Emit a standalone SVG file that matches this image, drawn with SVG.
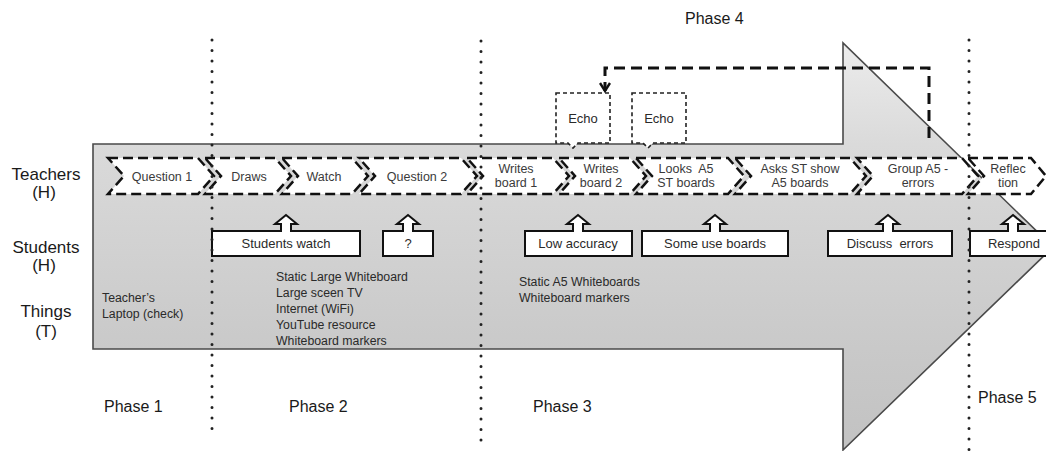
<svg xmlns="http://www.w3.org/2000/svg" width="1046" height="451" viewBox="0 0 1046 451">
  <defs>
    <linearGradient id="bodyFill" gradientUnits="userSpaceOnUse" x1="0" y1="43" x2="0" y2="450">
      <stop offset="0" stop-color="#ececec"/>
      <stop offset="0.25" stop-color="#dadada"/>
      <stop offset="0.75" stop-color="#c9c9c9"/>
      <stop offset="1" stop-color="#c2c2c2"/>
    </linearGradient>
    <marker id="openV" viewBox="0 0 12 12" refX="10" refY="6" markerWidth="12" markerHeight="12" markerUnits="userSpaceOnUse" orient="auto">
      <path d="M2,1 L10,6 L2,11" fill="none" stroke="#111" stroke-width="2.4" stroke-dasharray="none"/>
    </marker>
    <style>
      text { font-family: "Liberation Sans", Arial, sans-serif; }
      .row { font-size: 17px; fill: #1a1a1a; text-anchor: middle; }
      .phase { font-size: 16px; fill: #1a1a1a; }
      .step { fill: #fff; stroke: #111; stroke-width: 2.5; stroke-dasharray: 10 5; }
      .stepText { font-size: 12.5px; fill: #3a3a3a; text-anchor: middle; }
      .stu { fill: #fff; stroke: #111; stroke-width: 2; stroke-linejoin: miter; }
      .stuText { font-size: 13px; fill: #2a2a2a; text-anchor: middle; }
      .thing { font-size: 12.3px; fill: #2a2a2a; }
      .echo { fill: #fff; stroke: #222; stroke-width: 1.6; stroke-dasharray: 4 3; }
      .echoText { font-size: 13px; fill: #2a2a2a; text-anchor: middle; }
      .divider { stroke: #222; stroke-width: 3; stroke-dasharray: 0 10.5; stroke-linecap: round; fill: none; }
      .loop { fill: none; stroke: #111; stroke-width: 3; stroke-dasharray: 11 6; }
    </style>
  </defs>

  <!-- big process arrow -->
  <g id="process-arrow">
    <polygon points="93,144 843,144 843,43 1053,247 843,450 843,349 93,349" fill="url(#bodyFill)" stroke="#4a4a4a" stroke-width="1.6"/>
  </g>

  <!-- row labels -->
  <g id="row-labels">
    <text class="row" x="46" y="180">Teachers</text>
    <text class="row" x="44" y="198">(H)</text>
    <text class="row" x="46" y="253">Students</text>
    <text class="row" x="44" y="271">(H)</text>
    <text class="row" x="46" y="317">Things</text>
    <text class="row" x="46" y="337">(T)</text>
  </g>

  <!-- teacher steps -->
  <g id="t-question1">
    <path class="step" d="M108,158 H198 L214,176 L198,194 H108 L124,176 Z"/>
    <text class="stepText" x="162" y="181">Question 1</text>
  </g>
  <g id="t-draws">
    <path class="step" d="M205,158 H275 L291,176 L275,194 H205 L221,176 Z"/>
    <text class="stepText" x="249" y="181">Draws</text>
  </g>
  <g id="t-watch">
    <path class="step" d="M282,158 H352 L368,176 L352,194 H282 L298,176 Z"/>
    <text class="stepText" x="324" y="181">Watch</text>
  </g>
  <g id="t-question2">
    <path class="step" d="M359,158 H461 L477,176 L461,194 H359 L375,176 Z"/>
    <text class="stepText" x="417" y="181">Question 2</text>
  </g>
  <g id="t-writes1">
    <path class="step" d="M467,158 H553 L569,176 L553,194 H467 L483,176 Z"/>
    <text class="stepText" x="516" y="173">Writes</text>
    <text class="stepText" x="516" y="187">board 1</text>
  </g>
  <g id="t-writes2">
    <path class="step" d="M559,158 H630 L646,176 L630,194 H559 L575,176 Z"/>
    <text class="stepText" x="601" y="173">Writes</text>
    <text class="stepText" x="601" y="187">board 2</text>
  </g>
  <g id="t-looks">
    <path class="step" d="M636,158 H728 L744,176 L728,194 H636 L652,176 Z"/>
    <text class="stepText" x="686" y="173" xml:space="preserve">Looks  A5</text>
    <text class="stepText" x="686" y="187">ST boards</text>
  </g>
  <g id="t-asks">
    <path class="step" d="M735,158 H850 L866,176 L850,194 H735 L751,176 Z"/>
    <text class="stepText" x="800" y="173">Asks ST show</text>
    <text class="stepText" x="800" y="187">A5 boards</text>
  </g>
  <g id="t-group">
    <path class="step" d="M857,158 H962 L978,176 L962,194 H857 L873,176 Z"/>
    <text class="stepText" x="918" y="173">Group A5 -</text>
    <text class="stepText" x="918" y="187">errors</text>
  </g>
  <g id="t-reflection">
    <path class="step" d="M968,158 H1031 L1046,176 L1031,194 H968 L984,176 Z"/>
    <text class="stepText" x="1008" y="173">Reflec</text>
    <text class="stepText" x="1008" y="187">tion</text>
  </g>

  <!-- echo callouts -->
  <g id="echo-1">
    <path class="echo" d="M556,93 H610 V143 H578 L573,148 L568,143 H556 Z"/>
    <text class="echoText" x="583" y="123">Echo</text>
  </g>
  <g id="echo-2">
    <path class="echo" d="M632,93 H686 V143 H653 L648,148 L643,143 H632 Z"/>
    <text class="echoText" x="659" y="123">Echo</text>
  </g>

  <!-- student responses -->
  <g id="s-watch">
    <path class="stu" d="M212,231 H281 V224 H275 L286,215 L297,224 H291 V231 H360 V256 H212 Z"/>
    <text class="stuText" x="286" y="248">Students watch</text>
  </g>
  <g id="s-unknown">
    <path class="stu" d="M383,231 H403 V224 H397 L408,215 L419,224 H413 V231 H433 V256 H383 Z"/>
    <text class="stuText" x="408" y="248">?</text>
  </g>
  <g id="s-low-accuracy">
    <path class="stu" d="M525,231 H573 V224 H567 L578,215 L589,224 H583 V231 H632 V256 H525 Z"/>
    <text class="stuText" x="578" y="248">Low accuracy</text>
  </g>
  <g id="s-some-use">
    <path class="stu" d="M642,231 H710 V224 H704 L715,215 L726,224 H720 V231 H788 V256 H642 Z"/>
    <text class="stuText" x="715" y="248">Some use boards</text>
  </g>
  <g id="s-discuss">
    <path class="stu" d="M828,231 H883 V224 H877 L888,215 L899,224 H893 V231 H952 V256 H828 Z"/>
    <text class="stuText" x="890" y="248" xml:space="preserve">Discuss  errors</text>
  </g>
  <g id="s-respond">
    <path class="stu" d="M970,231 H1008 V224 H1002 L1013,215 L1024,224 H1018 V231 H1052 V256 H970 Z"/>
    <text class="stuText" x="1014" y="248">Respond</text>
  </g>

  <!-- resources -->
  <g id="things-phase1">
    <text class="thing" x="102" y="302">Teacher’s</text>
    <text class="thing" x="102" y="318">Laptop (check)</text>
  </g>
  <g id="things-phase2">
    <text class="thing" x="276" y="281">Static Large Whiteboard</text>
    <text class="thing" x="276" y="297">Large sceen TV</text>
    <text class="thing" x="276" y="313">Internet (WiFi)</text>
    <text class="thing" x="276" y="329">YouTube resource</text>
    <text class="thing" x="276" y="345">Whiteboard markers</text>
  </g>
  <g id="things-phase3">
    <text class="thing" x="519" y="286">Static A5 Whiteboards</text>
    <text class="thing" x="519" y="302">Whiteboard markers</text>
  </g>

  <!-- feedback loop -->
  <g id="connectors">
    <path class="loop" d="M929,138 V68 H605 V91" marker-end="url(#openV)"/>
  </g>

  <!-- phase dividers, drawn over the steps -->
  <g id="dividers">
    <line class="divider" x1="212" y1="40" x2="212" y2="430"/>
    <line class="divider" x1="481" y1="41" x2="481" y2="450"/>
    <line class="divider" x1="969" y1="40" x2="969" y2="451"/>
  </g>

  <!-- phase labels -->
  <g id="phase-labels">
    <text class="phase" x="104" y="412">Phase 1</text>
    <text class="phase" x="289" y="412">Phase 2</text>
    <text class="phase" x="533" y="412">Phase 3</text>
    <text class="phase" x="685" y="24">Phase 4</text>
    <text class="phase" x="978" y="403">Phase 5</text>
  </g>
</svg>
